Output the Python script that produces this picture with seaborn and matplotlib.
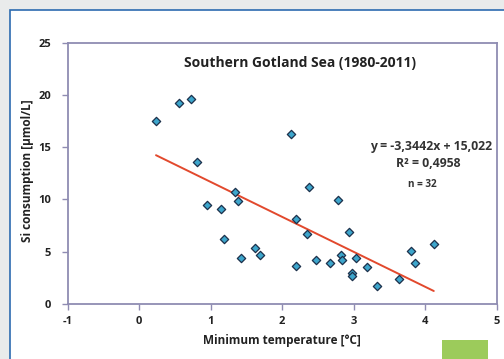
import numpy as np
import pandas as pd
import matplotlib
matplotlib.use("Agg")
import matplotlib.pyplot as plt
from matplotlib.patches import Rectangle
import seaborn as sns

# Minimum winter temperature (°C) and silicate consumption (µmol/L), 1980-2011
min_temp = [0.235, 0.55, 0.72, 0.81, 0.95, 1.14, 1.19, 1.34, 1.38, 1.43, 1.62, 1.69,
            2.12, 2.19, 2.19, 2.35, 2.37, 2.47, 2.67, 2.785, 2.82, 2.83, 2.94, 2.97,
            2.97, 3.03, 3.19, 3.32, 3.63, 3.80, 3.86, 4.12]
si_consumption = [17.47, 19.2, 19.6, 13.55, 9.5, 9.12, 6.25, 10.68, 9.82, 4.43, 5.39, 4.72,
                  16.23, 8.13, 3.64, 6.73, 11.22, 4.21, 3.95, 9.92, 4.66, 4.21, 6.89, 3.0,
                  2.65, 4.37, 3.54, 1.75, 2.42, 5.10, 3.89, 5.77]

# Linear trend as reported
slope = -3.3442
intercept = 15.022
r_squared = 0.4958

x_ticks = [-1, 0, 1, 2, 3, 4, 5]
y_ticks = [0, 5, 10, 15, 20, 25]

df = pd.DataFrame({"temp": min_temp, "si": si_consumption})
fit_x = np.array([min(min_temp), max(min_temp)])
fit_df = pd.DataFrame({"temp": fit_x, "si": slope * fit_x + intercept})

sns.set_theme(style="white")
plt.rcParams["font.family"] = ["Open Sans", "DejaVu Sans"]

fig = plt.figure(figsize=(5.04, 3.59), dpi=100)
fig.patch.set_facecolor("#e9ebeb")

# White panel with a blue border
panel = Rectangle((10 / 504, -0.1), 1.2, (359 - 10) / 359 + 0.1,
                  transform=fig.transFigure, facecolor="white",
                  edgecolor="#2c6bb0", linewidth=1.2, zorder=-10)
fig.patches.append(panel)

ax = fig.add_axes([67.7 / 504, 55 / 359, 429 / 504, 261.3 / 359])
ax.set_facecolor("white")
ax.set_zorder(1)

sns.lineplot(data=fit_df, x="temp", y="si", ax=ax, color="#e2492d",
             linewidth=1.4, zorder=2)
sns.scatterplot(data=df, x="temp", y="si", ax=ax, marker="D", s=18,
                color="#3da6cc", edgecolor="#1b2f4a", linewidth=0.9, zorder=3)

ax.set_xlim(-1, 5)
ax.set_ylim(0, 25)
ax.set_xticks(x_ticks)
ax.set_yticks(y_ticks)
ax.set_xticklabels([str(t) for t in x_ticks], fontsize=8, fontweight="bold",
                   color="#222222")
ax.set_yticklabels([str(t) for t in y_ticks], fontsize=8, fontweight="bold",
                   color="#222222")

spine_color = "#8f8cb2"
for side in ["left", "right", "top", "bottom"]:
    ax.spines[side].set_visible(True)
    ax.spines[side].set_color(spine_color)
    ax.spines[side].set_linewidth(1.3)
ax.tick_params(axis="both", which="both", direction="out", length=4, width=1.0,
               color=spine_color, pad=5, left=True, bottom=True)
ax.tick_params(axis="y", pad=8)

ax.set_xlabel("Minimum temperature [°C]", fontsize=8.5, fontweight="bold",
              color="#222222", labelpad=5)
ax.set_ylabel("Si consumption [µmol/L]", fontsize=8.5, fontweight="bold",
              color="#222222")
ax.yaxis.set_label_coords(-0.079, 0.511)

ax.text(0.541, 0.922, "Southern Gotland Sea (1980-2011)", transform=ax.transAxes,
        ha="center", va="center", fontsize=10, fontweight="bold", color="#222222")

eq = "y = {:.4f}x + {:.3f}".format(slope, intercept).replace(".", ",")
ax.text(0.99, 0.601, eq, transform=ax.transAxes, ha="right", va="center",
        fontsize=8.8, fontweight="bold", color="#333333")
ax.text(0.841, 0.536, "R² = {:.4f}".format(r_squared).replace(".", ","),
        transform=ax.transAxes, ha="center", va="center", fontsize=8.8,
        fontweight="bold", color="#333333")
ax.text(0.826, 0.459, "n = {}".format(len(min_temp)), transform=ax.transAxes,
        ha="center", va="center", fontsize=7.2, fontweight="bold", color="#333333")

# Green corner tab
fig.patches.append(Rectangle((442 / 504, 0), 46 / 504, 19 / 359,
                             transform=fig.transFigure, facecolor="#9ccb5b",
                             edgecolor="none", zorder=2))

fig.savefig("out.png", dpi=100)
